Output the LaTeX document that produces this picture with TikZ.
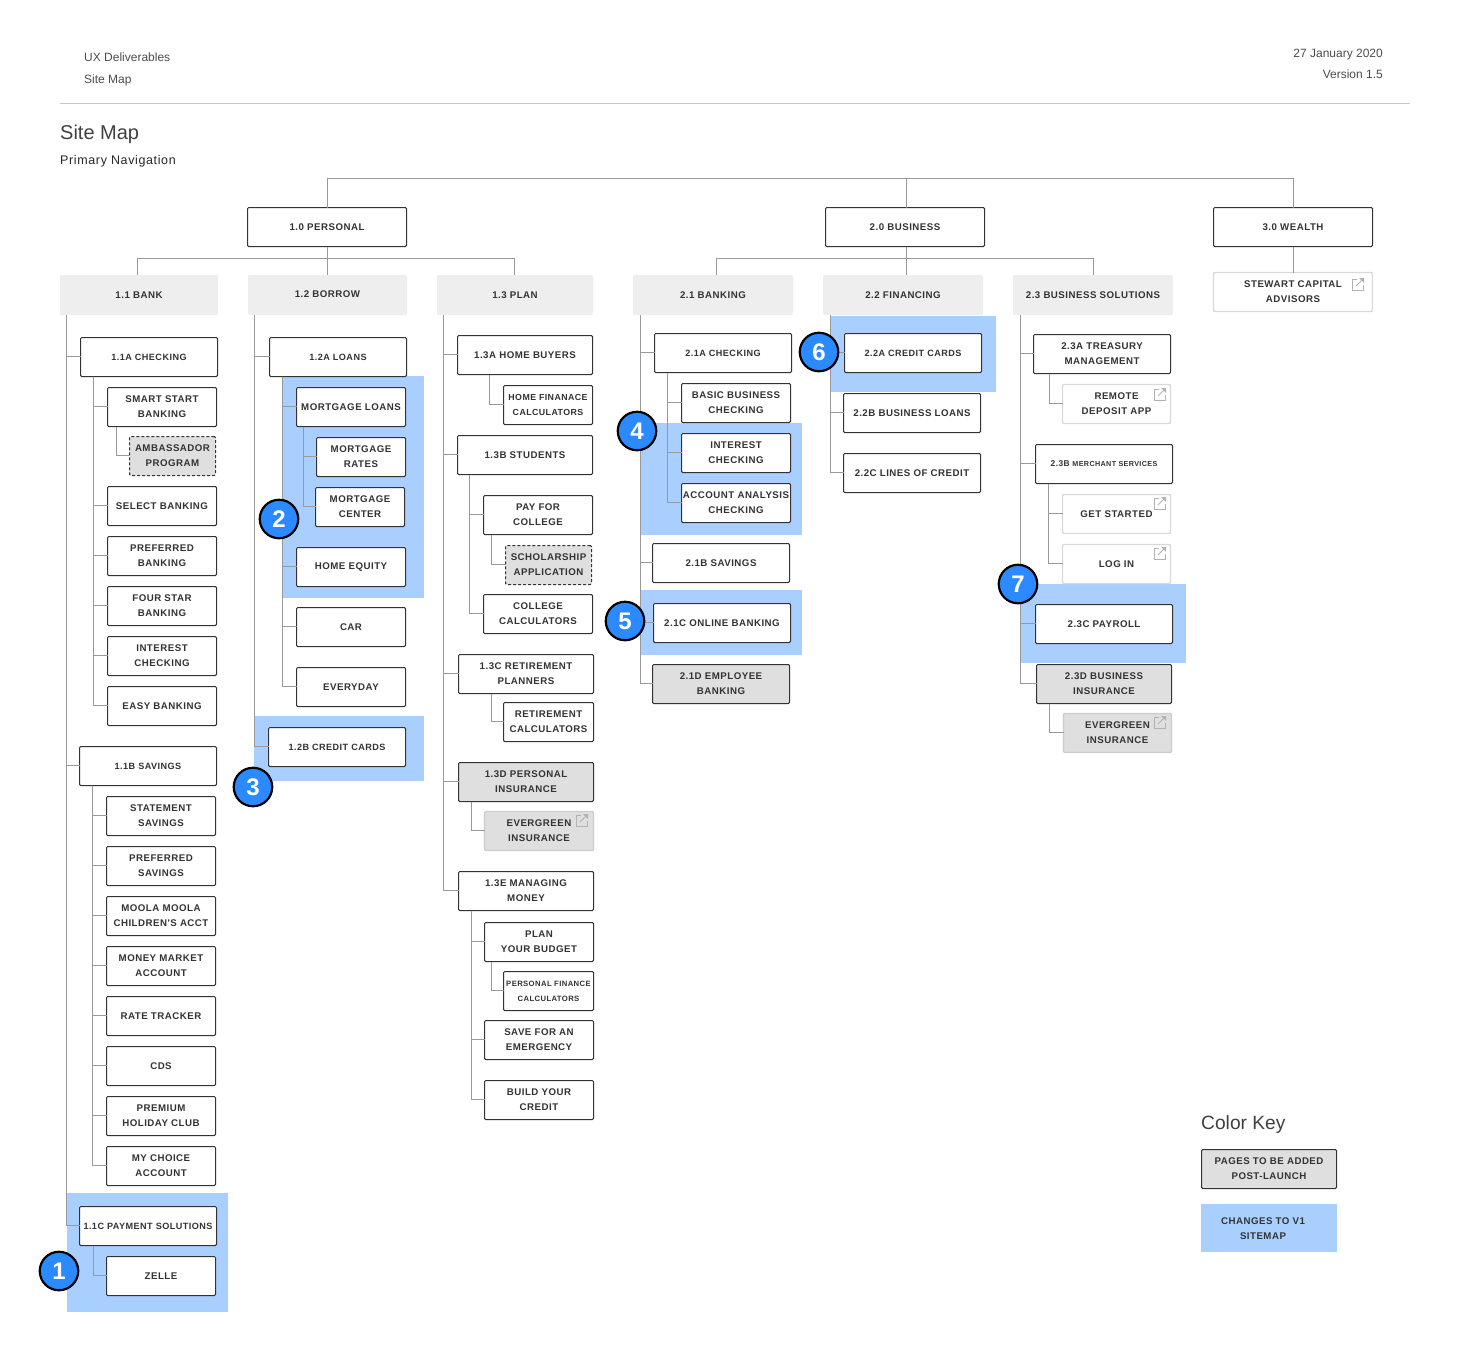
\documentclass[tikz,border=0pt]{standalone}
\usepackage{fontspec}
\setmainfont{Liberation Sans}
\newfontfamily\navfont[LetterSpace=5]{Liberation Sans}
\definecolor{inkgrey}{HTML}{333333}
\definecolor{linegrey}{HTML}{999999}
\definecolor{fillgrey}{HTML}{DFDFDF}
\definecolor{headgrey}{HTML}{EEEEEE}
\definecolor{changeblue}{HTML}{A8CFFF}
\definecolor{badgeblue}{HTML}{2B8AFF}
\tikzset{
  navbox/.style={draw=inkgrey,fill=white,line width=1pt,rounded corners=1.2pt,minimum width=109pt,minimum height=39pt,inner sep=0pt,outer sep=0pt,align=center,text=inkgrey,font=\navfont\fontsize{9.7}{15}\selectfont\bfseries},
  smallbox/.style={navbox,minimum width=137pt,font=\navfont\fontsize{9.1}{15}\selectfont\bfseries},
  addbox/.style={navbox,fill=fillgrey},
  dashbox/.style={navbox,fill=fillgrey,dash pattern=on 3pt off 2pt},
  extbox/.style={navbox,draw=black!15,line width=1.4pt},
  extadd/.style={extbox,draw=black!20,fill=fillgrey,minimum width=108pt},
  headbox/.style={navbox,draw=none,fill=headgrey,minimum width=160pt,minimum height=40pt},
  link/.style={draw=linegrey,line width=1pt},
  plain/.style={inner sep=0pt,text=black!70,font=\fontsize{12}{15}\selectfont},
  title/.style={inner sep=0pt,text=black!75,font=\fontsize{20}{24}\selectfont},
  badge/.style={circle,draw=black,fill=badgeblue,line width=2.2pt,minimum size=38.5pt,inner sep=0pt,text=white,font=\fontsize{24}{24}\selectfont\bfseries},
  exticon/.pic={
    \draw[black!30,line width=0.9pt] (5,0) -- (0,0) -- (0,11) -- (11,11) -- (11,6);
    \draw[black!30,line width=1pt] (4,7) -- (10,1);
    \fill[black!30] (7,-1) -- (12,-1) -- (12,4) -- cycle;
  }
}
\begin{document}
\begin{tikzpicture}[x=1pt,y=-1pt]
\useasboundingbox (0,0) rectangle (1484,1358);

\node[plain,anchor=west] (docname) at (84,57) {UX Deliverables};
\node[plain,anchor=west] (docpart) at (84,80.5) {Site Map};
\node[plain,anchor=east] (docdate) at (1383,54.5) {27 January 2020};
\node[plain,anchor=east] (docver) at (1383,74) {Version 1.5};
\draw[black!22,line width=1pt] (60,103.5) -- (1410,103.5);
\node[title,anchor=west] (maptitle) at (60,134.5) {Site Map};
\node[plain,anchor=west,text=black!85,font=\navfont\fontsize{12.5}{15}\selectfont] (mapsub) at (60,161.5) {Primary Navigation};

\fill[changeblue] (67,1193) rectangle (228,1312);
\fill[changeblue] (282,376) rectangle (424,598);
\fill[changeblue] (254,716) rectangle (424,781);
\fill[changeblue] (641,423) rectangle (802,535);
\fill[changeblue] (641,590) rectangle (802,655);
\fill[changeblue] (830,316) rectangle (996,392);
\fill[changeblue] (1021,584) rectangle (1186,663);

\node[navbox,minimum width=159pt] (personal) at (327,227) {1.0 PERSONAL};
\node[navbox,minimum width=159pt] (business) at (905,227) {2.0 BUSINESS};
\node[navbox,minimum width=159pt] (wealth) at (1293,227) {3.0 WEALTH};
\node[extbox,minimum width=159pt] (stewart) at (1293,292) {STEWART CAPITAL\\ADVISORS};

\node[headbox,minimum width=158pt] (bank) at (139,295) {1.1 BANK};
\node[headbox,minimum width=159pt] (borrow) at (327.5,295) {\raisebox{2pt}{1.2 BORROW}};
\node[headbox,minimum width=156pt] (plan) at (515,295) {1.3 PLAN};
\node[headbox] (banking) at (713,295) {2.1 BANKING};
\node[headbox] (financing) at (903,295) {2.2 FINANCING};
\node[headbox] (solutions) at (1093,295) {2.3 BUSINESS SOLUTIONS};

\node[smallbox] (bchecking) at (149,357) {1.1A CHECKING};
\node[navbox] (smart) at (162,407) {SMART START\\BANKING};
\node[dashbox,minimum width=86pt] (ambassador) at (172.5,456) {AMBASSADOR\\PROGRAM};
\node[navbox] (select) at (162,506) {SELECT BANKING};
\node[navbox] (preferred) at (162,556) {PREFERRED\\BANKING};
\node[navbox] (fourstar) at (162,606) {FOUR STAR\\BANKING};
\node[navbox] (interest) at (162,656) {INTEREST\\CHECKING};
\node[navbox] (easy) at (162,706) {EASY BANKING};
\node[smallbox] (bsavings) at (148,766) {1.1B SAVINGS};
\node[navbox] (statement) at (161,816) {STATEMENT\\SAVINGS};
\node[navbox] (prefsave) at (161,866) {PREFERRED\\SAVINGS};
\node[navbox] (moola) at (161,916) {MOOLA MOOLA\\CHILDREN'S ACCT};
\node[navbox] (market) at (161,966) {MONEY MARKET\\ACCOUNT};
\node[navbox] (rate) at (161,1016) {RATE TRACKER};
\node[navbox] (cds) at (161,1066) {CDS};
\node[navbox] (premium) at (161,1116) {PREMIUM\\HOLIDAY CLUB};
\node[navbox] (choice) at (161,1166) {MY CHOICE\\ACCOUNT};
\node[smallbox] (payment) at (148,1226) {1.1C PAYMENT SOLUTIONS};
\node[navbox] (zelle) at (161,1276) {ZELLE};

\node[smallbox] (loans) at (338,357) {1.2A LOANS};
\node[navbox] (mortgage) at (351,407) {MORTGAGE LOANS};
\node[navbox,minimum width=89pt] (mrates) at (361,457) {MORTGAGE\\RATES};
\node[navbox,minimum width=89pt] (mcenter) at (360,507) {MORTGAGE\\CENTER};
\node[navbox] (equity) at (351,567) {HOME EQUITY};
\node[navbox] (car) at (351,627) {CAR};
\node[navbox] (everyday) at (351,687) {EVERYDAY};
\node[smallbox] (credit) at (337,747) {1.2B CREDIT CARDS};

\node[navbox,minimum width=135pt] (buyers) at (525,355) {1.3A HOME BUYERS};
\node[navbox,minimum width=89pt,font=\navfont\fontsize{8.8}{15}\selectfont\bfseries] (homecalc) at (548,405) {HOME FINANACE\\CALCULATORS};
\node[navbox,minimum width=135pt] (students) at (525,455) {1.3B STUDENTS};
\node[navbox] (college) at (538,515) {PAY FOR\\COLLEGE};
\node[dashbox,minimum width=86pt] (scholar) at (548.5,565) {SCHOLARSHIP\\APPLICATION};
\node[navbox] (collcalc) at (538,614) {COLLEGE\\CALCULATORS};
\node[navbox,minimum width=135pt] (retire) at (526,674) {1.3C RETIREMENT\\PLANNERS};
\node[navbox,minimum width=90pt] (retcalc) at (548.5,722) {RETIREMENT\\CALCULATORS};
\node[addbox,minimum width=135pt] (insure) at (526,782) {1.3D PERSONAL\\INSURANCE};
\node[extadd,minimum width=109pt] (everone) at (539,831) {EVERGREEN\\INSURANCE};
\node[navbox,minimum width=135pt] (managing) at (526,891) {1.3E MANAGING\\MONEY};
\node[navbox] (budget) at (539,942) {PLAN\\YOUR BUDGET};
\node[navbox,minimum width=90pt,font=\navfont\fontsize{7.7}{15}\selectfont\bfseries] (perscalc) at (548.5,991) {PERSONAL FINANCE\\CALCULATORS};
\node[navbox] (emergency) at (539,1040) {SAVE FOR AN\\EMERGENCY};
\node[navbox] (build) at (539,1100) {BUILD YOUR\\CREDIT};

\node[smallbox] (checking) at (723,353) {2.1A CHECKING};
\node[navbox] (basic) at (736,403) {BASIC BUSINESS\\CHECKING};
\node[navbox] (intcheck) at (736,453) {INTEREST\\CHECKING};
\node[navbox] (analysis) at (736,503) {ACCOUNT ANALYSIS\\CHECKING};
\node[navbox,minimum width=137pt] (savings) at (721,563) {2.1B SAVINGS};
\node[navbox,minimum width=137pt] (online) at (722,623) {2.1C ONLINE BANKING};
\node[addbox,minimum width=137pt] (employee) at (721,684) {2.1D EMPLOYEE\\BANKING};

\node[smallbox] (cards) at (913,353) {2.2A CREDIT CARDS};
\node[navbox,minimum width=137pt] (bizloans) at (912,413) {2.2B BUSINESS LOANS};
\node[navbox,minimum width=137pt] (lines) at (912,473) {2.2C LINES OF CREDIT};

\node[navbox,minimum width=137pt] (treasury) at (1102,354) {2.3A TREASURY\\MANAGEMENT};
\node[extbox,minimum width=108pt] (remote) at (1116.5,404) {REMOTE\\DEPOSIT APP};
\node[navbox,minimum width=137pt] (merchant) at (1104,464) {\fontsize{8.4}{15}\selectfont 2.3B {\fontsize{7.2}{15}\selectfont MERCHANT SERVICES}};
\node[extbox,minimum width=108pt] (started) at (1116.5,514) {GET STARTED};
\node[extbox,minimum width=108pt] (login) at (1116.5,564) {LOG IN};
\node[navbox,minimum width=137pt] (payroll) at (1104,624) {2.3C PAYROLL};
\node[addbox,minimum width=135pt] (bizins) at (1104,684) {2.3D BUSINESS\\INSURANCE};
\node[extadd] (evertwo) at (1117.5,733) {EVERGREEN\\INSURANCE};

\pic at ([xshift=-20.5pt,yshift=-6.5pt]stewart.north east) {exticon};
\pic at ([xshift=-17.5pt,yshift=-3.5pt]everone.north east) {exticon};
\pic at ([xshift=-16.5pt,yshift=-4.5pt]remote.north east) {exticon};
\pic at ([xshift=-16.5pt,yshift=-3.5pt]started.north east) {exticon};
\pic at ([xshift=-16.5pt,yshift=-3.5pt]login.north east) {exticon};
\pic at ([xshift=-17.5pt,yshift=-3.5pt]evertwo.north east) {exticon};

\coordinate (toprail) at (906.5,178.5);
\coordinate (personalrail) at (327.5,258.5);
\coordinate (businessrail) at (906.5,258.5);
\draw[link] ([xshift=0.5pt]personal.north) |- (toprail);
\draw[link] ([xshift=0.5pt]wealth.north) |- (toprail);
\draw[link] (toprail) -- (toprail |- business.north);
\draw[link] ([xshift=0.5pt]wealth.south) -- ([xshift=0.5pt]stewart.north);
\draw[link] ([xshift=0.5pt]personal.south) -- ([xshift=0.5pt]personal.south |- borrow.north);
\draw[link] ([xshift=-1.5pt]bank.north) |- (personalrail);
\draw[link] ([xshift=-0.5pt]plan.north) |- (personalrail);
\draw[link] (businessrail |- business.south) -- (businessrail |- financing.north);
\draw[link] ([xshift=3.5pt]banking.north) |- (businessrail);
\draw[link] ([xshift=0.5pt]solutions.north) |- (businessrail);

\draw[link] ([xshift=6.5pt]bank.south west) |- ([yshift=0.5pt]bchecking.west);
\draw[link] ([xshift=6.5pt]bank.south west) |- ([yshift=0.5pt]bsavings.west);
\draw[link] ([xshift=6.5pt]bank.south west) |- ([yshift=0.5pt]payment.west);
\draw[link] ([xshift=13pt]bchecking.south west) |- ([yshift=0.5pt]smart.west);
\draw[link] ([xshift=13pt]bchecking.south west) |- ([yshift=0.5pt]select.west);
\draw[link] ([xshift=13pt]bchecking.south west) |- ([yshift=0.5pt]preferred.west);
\draw[link] ([xshift=13pt]bchecking.south west) |- ([yshift=0.5pt]fourstar.west);
\draw[link] ([xshift=13pt]bchecking.south west) |- ([yshift=0.5pt]interest.west);
\draw[link] ([xshift=13pt]bchecking.south west) |- ([yshift=0.5pt]easy.west);
\draw[link] ([xshift=9pt]smart.south west) |- ([yshift=0.5pt]ambassador.west);
\draw[link] ([xshift=13pt]bsavings.south west) |- ([yshift=0.5pt]statement.west);
\draw[link] ([xshift=13pt]bsavings.south west) |- ([yshift=0.5pt]prefsave.west);
\draw[link] ([xshift=13pt]bsavings.south west) |- ([yshift=0.5pt]moola.west);
\draw[link] ([xshift=13pt]bsavings.south west) |- ([yshift=0.5pt]market.west);
\draw[link] ([xshift=13pt]bsavings.south west) |- ([yshift=0.5pt]rate.west);
\draw[link] ([xshift=13pt]bsavings.south west) |- ([yshift=0.5pt]cds.west);
\draw[link] ([xshift=13pt]bsavings.south west) |- ([yshift=0.5pt]premium.west);
\draw[link] ([xshift=13pt]bsavings.south west) |- ([yshift=0.5pt]choice.west);
\draw[link] ([xshift=14pt]payment.south west) |- ([yshift=0.5pt]zelle.west);

\draw[link] ([xshift=6.5pt]borrow.south west) |- ([yshift=0.5pt]loans.west);
\draw[link] ([xshift=6.5pt]borrow.south west) |- ([yshift=0.5pt]credit.west);
\draw[link] ([xshift=13pt]loans.south west) |- ([yshift=0.5pt]mortgage.west);
\draw[link] ([xshift=13pt]loans.south west) |- ([yshift=0.5pt]equity.west);
\draw[link] ([xshift=13pt]loans.south west) |- ([yshift=0.5pt]car.west);
\draw[link] ([xshift=13pt]loans.south west) |- ([yshift=0.5pt]everyday.west);
\draw[link] ([xshift=7pt]mortgage.south west) |- ([yshift=0.5pt]mrates.west);
\draw[link] ([xshift=7pt]mortgage.south west) |- ([yshift=0.5pt]mcenter.west);

\draw[link] ([xshift=6.5pt]plan.south west) |- ([yshift=0.5pt]buyers.west);
\draw[link] ([xshift=6.5pt]plan.south west) |- ([yshift=0.5pt]students.west);
\draw[link] ([xshift=6.5pt]plan.south west) |- ([yshift=0.5pt]retire.west);
\draw[link] ([xshift=6.5pt]plan.south west) |- ([yshift=0.5pt]insure.west);
\draw[link] ([xshift=6.5pt]plan.south west) |- ([yshift=0.5pt]managing.west);
\draw[link] ([xshift=32pt]buyers.south west) |- ([yshift=0.5pt]homecalc.west);
\draw[link] ([xshift=12pt]students.south west) |- ([yshift=0.5pt]college.west);
\draw[link] ([xshift=12pt]students.south west) |- ([yshift=0.5pt]collcalc.west);
\draw[link] ([xshift=8pt]college.south west) |- ([yshift=0.5pt]scholar.west);
\draw[link] ([xshift=33pt]retire.south west) |- ([yshift=0.5pt]retcalc.west);
\draw[link] ([xshift=13pt]insure.south west) |- ([yshift=0.5pt]everone.west);
\draw[link] ([xshift=13pt]managing.south west) |- ([yshift=0.5pt]budget.west);
\draw[link] ([xshift=13pt]managing.south west) |- ([yshift=0.5pt]emergency.west);
\draw[link] ([xshift=13pt]managing.south west) |- ([yshift=0.5pt]build.west);
\draw[link] ([xshift=7pt]budget.south west) |- ([yshift=0.5pt]perscalc.west);

\draw[link] ([xshift=7.5pt]banking.south west) |- ([yshift=0.5pt]checking.west);
\draw[link] ([xshift=7.5pt]banking.south west) |- ([yshift=0.5pt]savings.west);
\draw[link] ([xshift=7.5pt]banking.south west) |- ([yshift=0.5pt]online.west);
\draw[link] ([xshift=7.5pt]banking.south west) |- ([yshift=0.5pt]employee.west);
\draw[link] ([xshift=13pt]checking.south west) |- ([yshift=0.5pt]basic.west);
\draw[link] ([xshift=13pt]checking.south west) |- ([yshift=0.5pt]intcheck.west);
\draw[link] ([xshift=13pt]checking.south west) |- ([yshift=0.5pt]analysis.west);

\draw[link] ([xshift=7.5pt]financing.south west) |- ([yshift=0.5pt]cards.west);
\draw[link] ([xshift=7.5pt]financing.south west) |- ([yshift=0.5pt]bizloans.west);
\draw[link] ([xshift=7.5pt]financing.south west) |- ([yshift=0.5pt]lines.west);

\draw[link] ([xshift=7.5pt]solutions.south west) |- ([yshift=0.5pt]treasury.west);
\draw[link] ([xshift=7.5pt]solutions.south west) |- ([yshift=0.5pt]merchant.west);
\draw[link] ([xshift=7.5pt]solutions.south west) |- ([yshift=0.5pt]payroll.west);
\draw[link] ([xshift=7.5pt]solutions.south west) |- ([yshift=0.5pt]bizins.west);
\draw[link] ([xshift=16pt]treasury.south west) |- ([yshift=0.5pt]remote.west);
\draw[link] ([xshift=13pt]merchant.south west) |- ([yshift=0.5pt]started.west);
\draw[link] ([xshift=13pt]merchant.south west) |- ([yshift=0.5pt]login.west);
\draw[link] ([xshift=13pt]bizins.south west) |- ([yshift=0.5pt]evertwo.west);

\node[badge] (one) at (59,1271) {1};
\node[badge] (two) at (279,519) {2};
\node[badge] (three) at (253,787) {3};
\node[badge] (four) at (637,431) {4};
\node[badge] (five) at (625,621) {5};
\node[badge] (six) at (819,352) {6};
\node[badge] (seven) at (1018,584) {7};

\node[title,anchor=west,font=\fontsize{19.2}{24}\selectfont] (keytitle) at (1201,1124.5) {Color Key};
\node[addbox,minimum width=135pt] (keyadd) at (1269,1169) {PAGES TO BE ADDED\\POST-LAUNCH};
\fill[changeblue] (1201,1204) rectangle (1337,1252);
\node[inner sep=0pt,align=center,text=inkgrey,font=\navfont\fontsize{9.7}{15}\selectfont\bfseries] (keychange) at (1263,1229) {CHANGES TO V1\\SITEMAP};
\end{tikzpicture}
\end{document}
